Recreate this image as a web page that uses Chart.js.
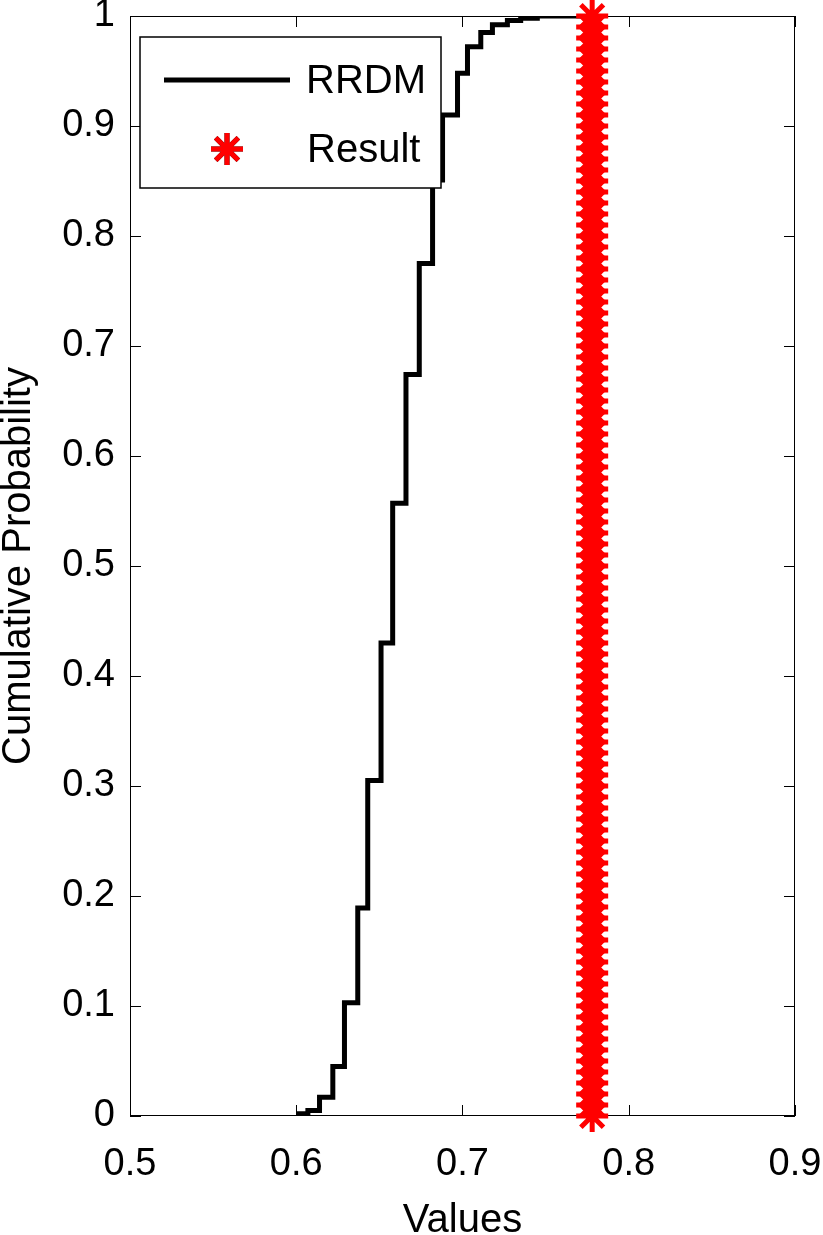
<!DOCTYPE html>
<html>
<head>
<meta charset="utf-8">
<script src="https://cdn.jsdelivr.net/npm/chart.js@4/dist/chart.umd.min.js"></script>
<style>
  body { margin: 0; background: #fff; }
  #wrap { width: 823px; height: 1235px; position: relative; }
</style>
</head>
<body>
<div id="wrap"><canvas id="cdf"></canvas></div>
<script>
const cdfX = [0.600, 0.607, 0.614, 0.622, 0.629, 0.637, 0.643, 0.651, 0.658, 0.666,
  0.674, 0.682, 0.688, 0.697, 0.703, 0.711, 0.718, 0.727, 0.735, 0.745, 0.775];
const cdfY = [0.002, 0.005, 0.017, 0.045, 0.103, 0.189, 0.305, 0.430, 0.557, 0.674,
  0.775, 0.851, 0.910, 0.948, 0.972, 0.985, 0.992, 0.996, 0.998, 1.000, 1.000];

// the single result value, marked at each probability level
const resultX = 0.778;
const resultY = [0, 0.01, 0.02, 0.03, 0.04, 0.05, 0.06, 0.07, 0.08, 0.09,
  0.1, 0.11, 0.12, 0.13, 0.14, 0.15, 0.16, 0.17, 0.18, 0.19,
  0.2, 0.21, 0.22, 0.23, 0.24, 0.25, 0.26, 0.27, 0.28, 0.29,
  0.3, 0.31, 0.32, 0.33, 0.34, 0.35, 0.36, 0.37, 0.38, 0.39,
  0.4, 0.41, 0.42, 0.43, 0.44, 0.45, 0.46, 0.47, 0.48, 0.49,
  0.5, 0.51, 0.52, 0.53, 0.54, 0.55, 0.56, 0.57, 0.58, 0.59,
  0.6, 0.61, 0.62, 0.63, 0.64, 0.65, 0.66, 0.67, 0.68, 0.69,
  0.7, 0.71, 0.72, 0.73, 0.74, 0.75, 0.76, 0.77, 0.78, 0.79,
  0.8, 0.81, 0.82, 0.83, 0.84, 0.85, 0.86, 0.87, 0.88, 0.89,
  0.9, 0.91, 0.92, 0.93, 0.94, 0.95, 0.96, 0.97, 0.98, 0.99, 1];

const xTickLabels = ["0.5", "0.6", "0.7", "0.8", "0.9"];
const yTickLabels = ["0", "0.1", "0.2", "0.3", "0.4", "0.5", "0.6", "0.7", "0.8", "0.9", "1"];

const FONT = "'Liberation Sans', Arial, Helvetica, sans-serif";

// box round the axes with inward ticks on all four sides (drawn under the data)
const axesBox = {
  id: "axesBox",
  beforeDatasetsDraw(chart) {
    const { ctx, chartArea: a, scales } = chart;
    const len = 11;
    ctx.save();
    ctx.strokeStyle = "#000";
    ctx.lineWidth = 1;
    ctx.strokeRect(a.left + 0.5, a.top + 0.5, a.right - a.left - 1, a.bottom - a.top - 1);
    ctx.beginPath();
    scales.x.ticks.forEach((t) => {
      const px = Math.round(scales.x.getPixelForValue(t.value)) + 0.5;
      ctx.moveTo(px, a.bottom);
      ctx.lineTo(px, a.bottom - len);
      ctx.moveTo(px, a.top);
      ctx.lineTo(px, a.top + len);
    });
    scales.y.ticks.forEach((t) => {
      const py = Math.round(scales.y.getPixelForValue(t.value)) + 0.5;
      ctx.moveTo(a.left, py);
      ctx.lineTo(a.left + len, py);
      ctx.moveTo(a.right, py);
      ctx.lineTo(a.right - len, py);
    });
    ctx.stroke();
    ctx.restore();
  },
};

// boxed legend in the upper left, drawn over the curve
const boxLegend = {
  id: "boxLegend",
  afterDatasetsDraw(chart) {
    const { ctx } = chart;
    const sets = chart.data.datasets;
    const bx = 140, by = 37, bw = 301, bh = 151;
    ctx.save();
    ctx.fillStyle = "#fff";
    ctx.fillRect(bx, by, bw, bh);
    ctx.strokeStyle = "#000";
    ctx.lineWidth = 1.5;
    ctx.strokeRect(bx, by, bw, bh);

    // line sample
    ctx.strokeStyle = sets[0].borderColor;
    ctx.lineWidth = sets[0].borderWidth;
    ctx.beginPath();
    ctx.moveTo(164, 80);
    ctx.lineTo(290, 80);
    ctx.stroke();

    // marker sample
    Chart.helpers.drawPoint(ctx, {
      pointStyle: "star",
      radius: sets[1].pointRadius,
      borderWidth: sets[1].pointBorderWidth,
      rotation: 0,
    }, 227, 149);
    ctx.strokeStyle = sets[1].pointBorderColor;
    ctx.lineWidth = sets[1].pointBorderWidth;
    ctx.stroke();

    ctx.fillStyle = "#000";
    ctx.font = "40px " + FONT;
    ctx.textBaseline = "middle";
    ctx.textAlign = "left";
    ctx.fillText(sets[0].label, 306, 82);
    ctx.fillText(sets[1].label, 307, 151);
    ctx.restore();
  },
};

const renderChart = () => {
  const ctx = document.getElementById("cdf");

  new Chart(ctx, {
    type: "scatter",
    data: {
      datasets: [
        {
          label: "RRDM",
          data: cdfX.map((x, i) => ({ x, y: cdfY[i] })),
          showLine: true,
          stepped: true,
          borderColor: "#000",
          borderWidth: 5,
          pointRadius: 0,
          fill: false,
          order: 1,
        },
        {
          label: "Result",
          data: resultY.map((y) => ({ x: resultX, y })),
          showLine: false,
          pointStyle: "star",
          pointRadius: 16,
          pointBorderWidth: 5,
          pointBorderColor: "#ff0000",
          pointBackgroundColor: "#ff0000",
          clip: false,
          order: 0,
        },
      ],
    },
    options: {
      responsive: true,
      maintainAspectRatio: false,
      animation: false,
      events: [],
      layout: { autoPadding: false, padding: { top: 16, right: 28, left: 0, bottom: 0 } },
      plugins: {
        legend: { display: false },
        tooltip: { enabled: false },
      },
      scales: {
        x: {
          type: "linear",
          min: 0.5,
          max: 0.9,
          grid: { display: false, drawTicks: false },
          border: { display: false },
          ticks: {
            stepSize: 0.1,
            color: "#000",
            padding: 26,
            maxRotation: 0,
            font: { family: FONT, size: 38 },
            callback: (v, i) => xTickLabels[i],
          },
          title: {
            display: true,
            text: "Values",
            color: "#000",
            font: { family: FONT, size: 40, lineHeight: 0.7 },
            padding: { top: 0, bottom: 0 },
          },
          afterFit: (scale) => {
            scale.height = 119;
            scale.paddingLeft = 0;
            scale.paddingRight = 0;
          },
        },
        y: {
          type: "linear",
          min: 0,
          max: 1,
          grid: { display: false, drawTicks: false },
          border: { display: false },
          ticks: {
            stepSize: 0.1,
            color: "#000",
            padding: 15,
            font: { family: FONT, size: 38, lineHeight: 0.8 },
            callback: (v, i) => yTickLabels[i],
          },
          title: {
            display: true,
            text: "Cumulative Probability",
            color: "#000",
            font: { family: FONT, size: 40, lineHeight: 0.85 },
            padding: { top: 2, bottom: 0 },
          },
          afterFit: (scale) => {
            scale.width = 130;
            scale.paddingTop = 0;
            scale.paddingBottom = 0;
          },
        },
      },
    },
    plugins: [axesBox, boxLegend],
  });
};

renderChart();
</script>
</body>
</html>
